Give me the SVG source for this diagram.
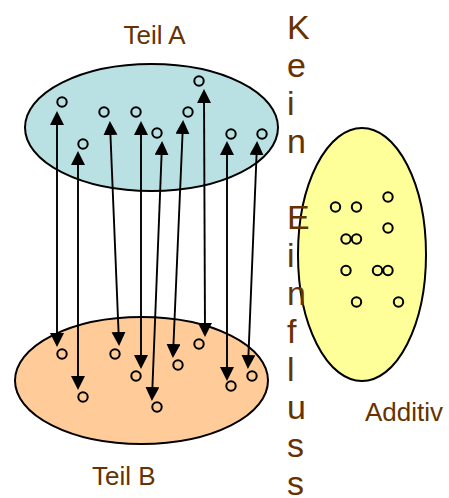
<svg xmlns="http://www.w3.org/2000/svg" width="449" height="498" viewBox="0 0 449 498">
<style>
.ell{stroke:#000;stroke-width:2}
.pt{fill:none;stroke:#000;stroke-width:2}
.lbl{font-family:"Liberation Sans",Arial,sans-serif;font-size:26px;fill:#663300}
.vt{font-family:"Liberation Sans",Arial,sans-serif;font-size:34px;fill:#663300}
.con{stroke:#000;stroke-width:1.9;fill:none;marker-start:url(#ah);marker-end:url(#ah)}
</style>
<defs>
<marker id="ah" markerUnits="userSpaceOnUse" markerWidth="15" markerHeight="15" viewBox="0 0 15 15" refX="11" refY="7" orient="auto-start-reverse">
<path d="M0,0 L14,7 L0,14 z" fill="#000"/>
</marker>
</defs>
<rect width="449" height="498" fill="#fff"/>
<g id="teilA">
<ellipse class="ell" cx="151.5" cy="127.5" rx="126.5" ry="63.5" fill="#B9E0E3"/>
<circle class="pt" cx="62" cy="102" r="4.7"/>
<circle class="pt" cx="83" cy="144" r="4.7"/>
<circle class="pt" cx="104" cy="112" r="4.7"/>
<circle class="pt" cx="136" cy="112" r="4.7"/>
<circle class="pt" cx="157" cy="133" r="4.7"/>
<circle class="pt" cx="188" cy="112" r="4.7"/>
<circle class="pt" cx="199" cy="81" r="4.7"/>
<circle class="pt" cx="231" cy="134" r="4.7"/>
<circle class="pt" cx="262" cy="134" r="4.7"/>
</g>
<g id="teilB">
<ellipse class="ell" cx="141.5" cy="380.5" rx="126.5" ry="63.5" fill="#FFCC99"/>
<circle class="pt" cx="62" cy="354" r="4.7"/>
<circle class="pt" cx="83" cy="397" r="4.7"/>
<circle class="pt" cx="115" cy="354" r="4.7"/>
<circle class="pt" cx="136" cy="376" r="4.7"/>
<circle class="pt" cx="157" cy="407" r="4.7"/>
<circle class="pt" cx="178" cy="365" r="4.7"/>
<circle class="pt" cx="199" cy="344" r="4.7"/>
<circle class="pt" cx="231" cy="386" r="4.7"/>
<circle class="pt" cx="252" cy="376" r="4.7"/>
</g>
<g id="additiv">
<ellipse class="ell" cx="362" cy="254.5" rx="64" ry="126.5" fill="#FFFF99"/>
<circle class="pt" cx="335.5" cy="207" r="4.7"/>
<circle class="pt" cx="356.5" cy="207" r="4.7"/>
<circle class="pt" cx="388" cy="197" r="4.7"/>
<circle class="pt" cx="388" cy="228" r="4.7"/>
<circle class="pt" cx="346" cy="239" r="4.7"/>
<circle class="pt" cx="356.5" cy="239" r="4.7"/>
<circle class="pt" cx="346" cy="270.5" r="4.7"/>
<circle class="pt" cx="377.5" cy="270.5" r="4.7"/>
<circle class="pt" cx="388" cy="270.5" r="4.7"/>
<circle class="pt" cx="356.5" cy="302" r="4.7"/>
<circle class="pt" cx="398.5" cy="302" r="4.7"/>
</g>
<g id="connectors">
<line class="con" x1="57" y1="114" x2="57" y2="344"/>
<line class="con" x1="78" y1="154" x2="78" y2="387"/>
<line class="con" x1="110" y1="124" x2="119" y2="343"/>
<line class="con" x1="141" y1="124" x2="141" y2="366"/>
<line class="con" x1="162" y1="144" x2="152" y2="398"/>
<line class="con" x1="183" y1="123" x2="173" y2="355"/>
<line class="con" x1="204" y1="92" x2="205" y2="334"/>
<line class="con" x1="227" y1="144" x2="227" y2="378"/>
<line class="con" x1="257" y1="144" x2="248" y2="366"/>
</g>
<g id="label-teilA"><text class="lbl" x="123.5" y="43.5">Teil A</text></g>
<g id="label-teilB"><text class="lbl" x="92" y="485">Teil B</text></g>
<g id="label-additiv"><text class="lbl" x="365" y="421">Additiv</text></g>
<g id="label-keinEinfluss">
<text class="vt" x="287" y="39">K</text>
<text class="vt" x="287" y="77">e</text>
<text class="vt" x="287" y="115">i</text>
<text class="vt" x="287" y="153">n</text>
<text class="vt" x="287" y="229">E</text>
<text class="vt" x="287" y="267">i</text>
<text class="vt" x="287" y="305">n</text>
<text class="vt" x="287" y="343">f</text>
<text class="vt" x="287" y="381">l</text>
<text class="vt" x="287" y="419">u</text>
<text class="vt" x="287" y="457">s</text>
<text class="vt" x="287" y="495">s</text>
</g>
</svg>
